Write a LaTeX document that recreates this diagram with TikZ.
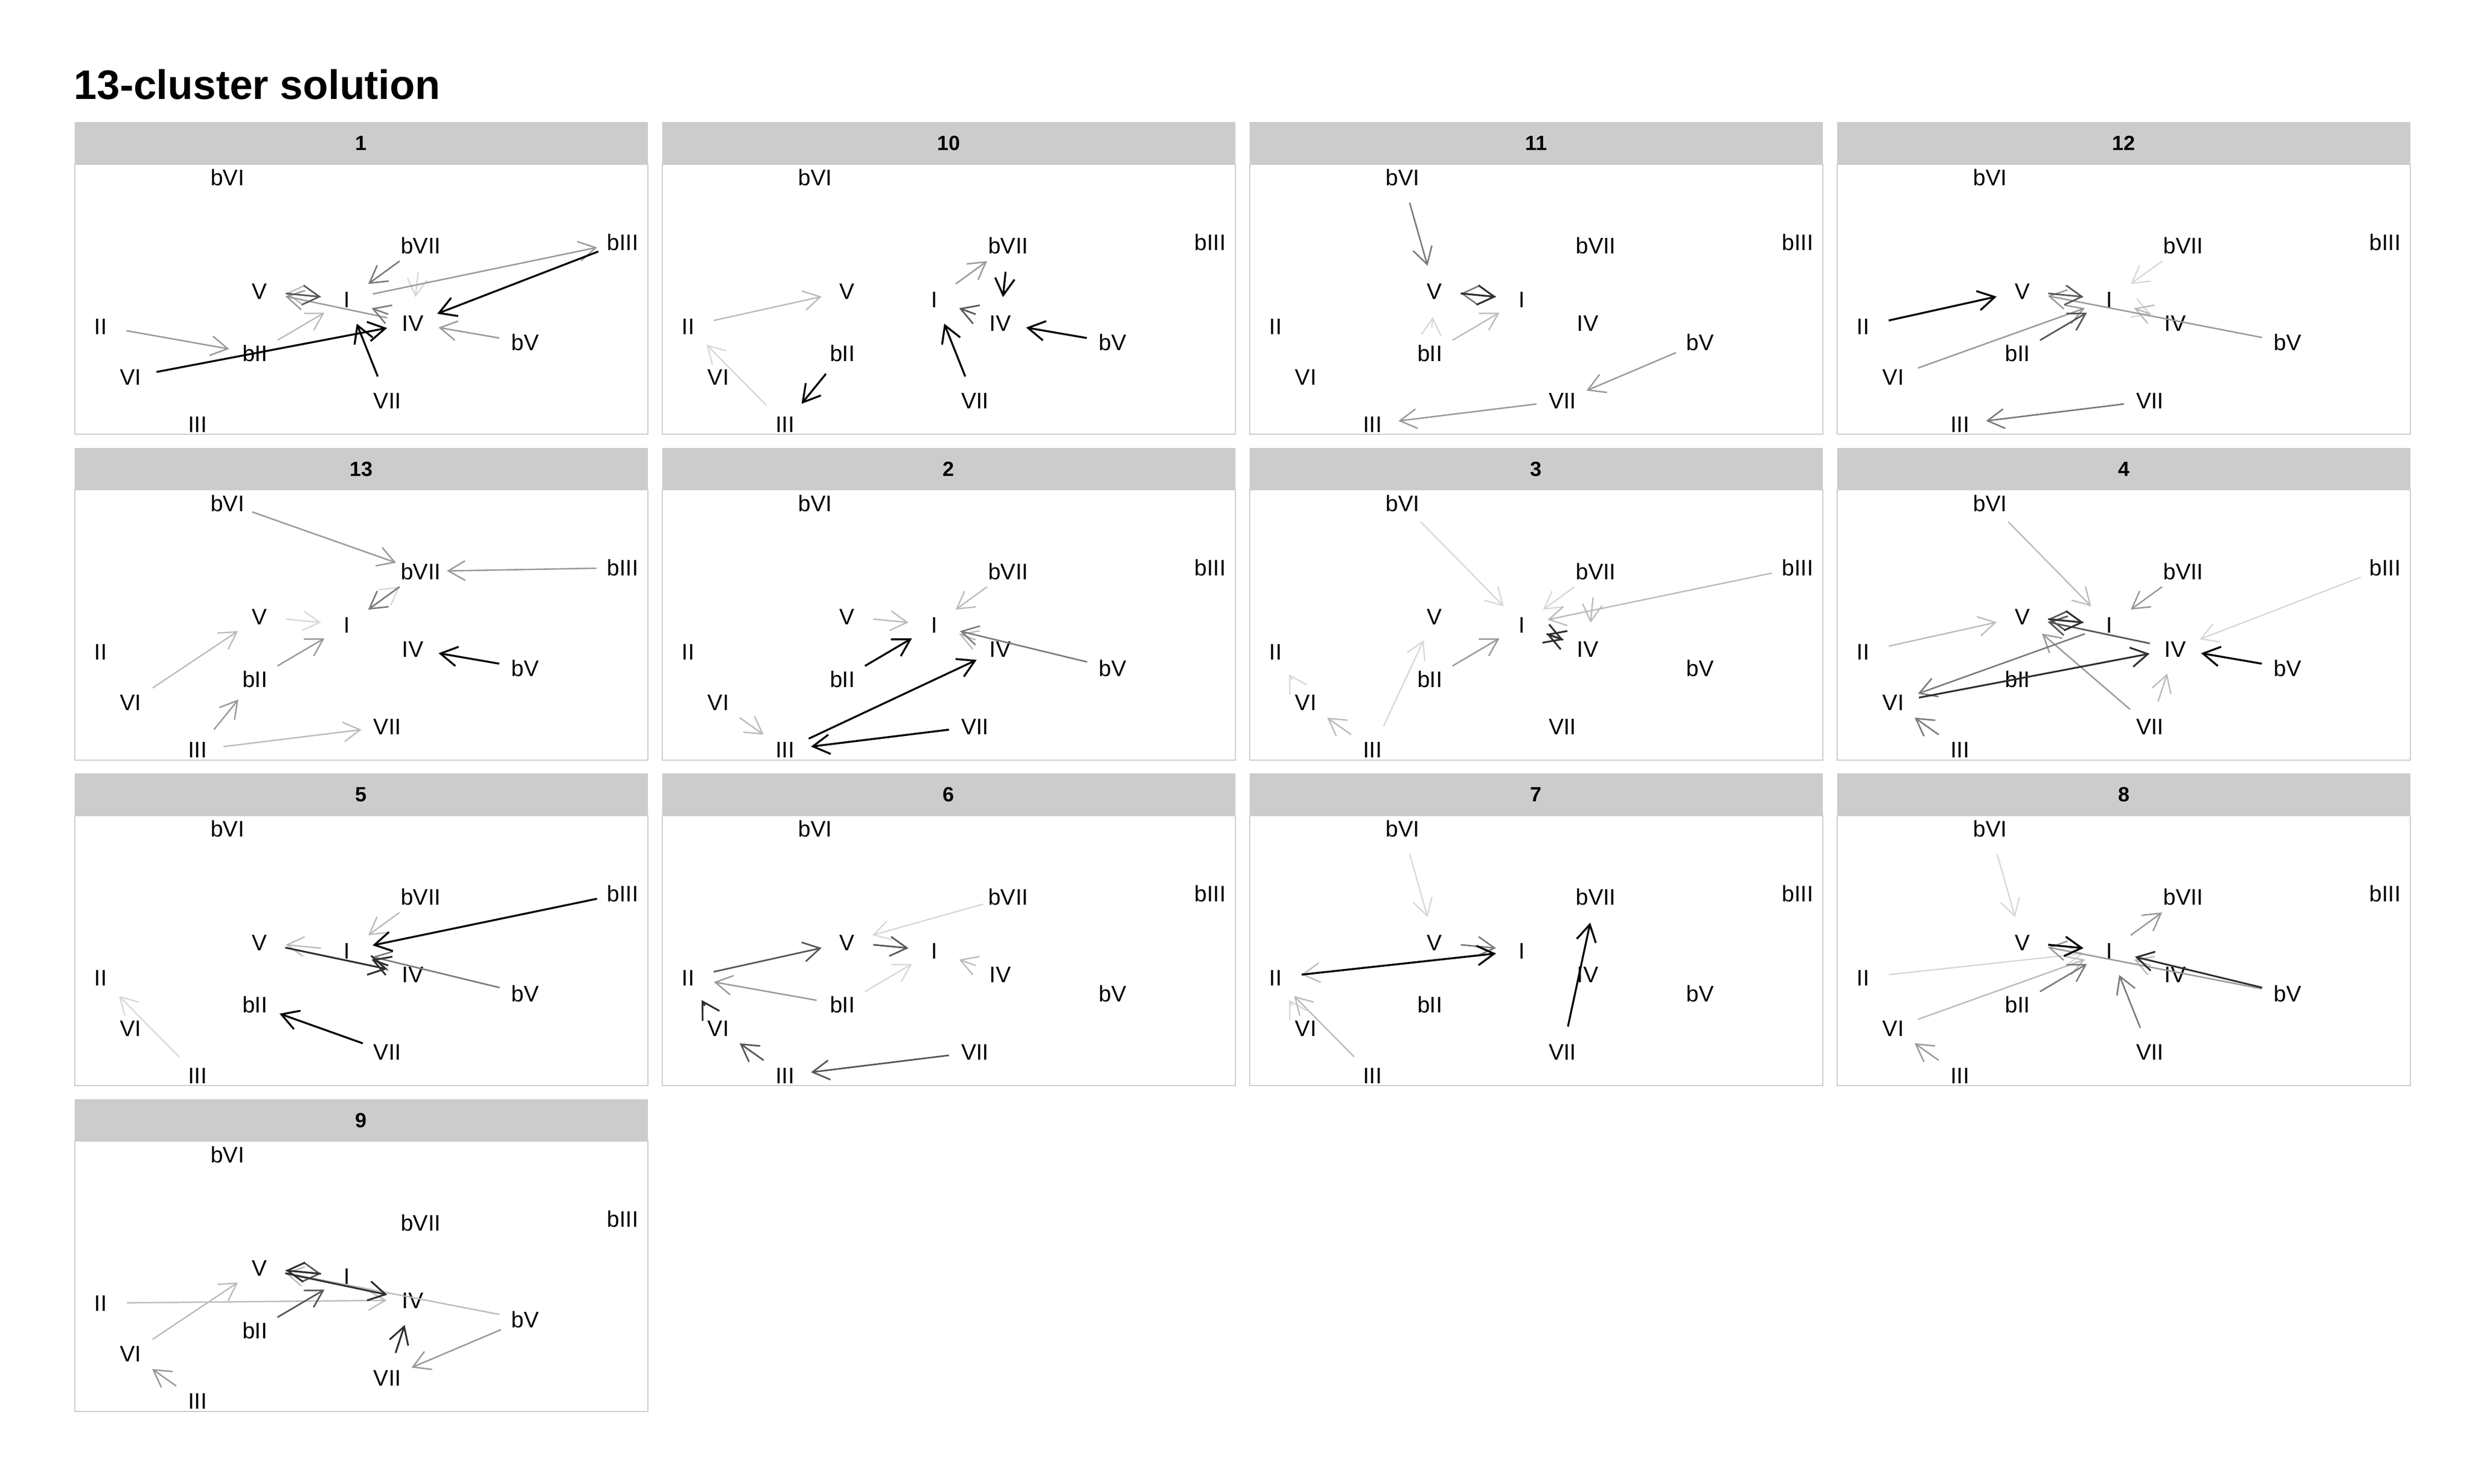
\documentclass[tikz,border=0pt]{standalone}
\usepackage{fontspec}
\setmainfont{Liberation Sans}
\usetikzlibrary{arrows.meta}
\definecolor{stripgray}{gray}{0.8}
\definecolor{bordgray}{gray}{0.8}
\tikzset{
  lab/.style={font=\fontsize{14.2}{14.2}\selectfont, inner sep=0pt, text height=10.2pt, text depth=0pt},
  striplab/.style={font=\bfseries\fontsize{13}{13}\selectfont, inner sep=0pt, text height=9.3pt, text depth=0pt},
  titlelab/.style={font=\bfseries\fontsize{26}{26}\selectfont, inner sep=0pt, anchor=base west},
  arr/.style={shorten <=16.5pt, shorten >=16.5pt, -{Straight Barb[length=10.6pt,width=12.3pt]}, line join=miter},
  g0/.style={arr, draw=black, line width=1.2pt},
  g1/.style={arr, draw=black!82, line width=1.1pt},
  g2/.style={arr, draw=black!66, line width=1.0pt},
  g3/.style={arr, draw=black!52, line width=0.95pt},
  g4/.style={arr, draw=black!40, line width=0.9pt},
  g5/.style={arr, draw=black!27, line width=0.85pt},
  g6/.style={arr, draw=black!16, line width=0.8pt},
}
\newcommand\mypanel[4]{%
  \fill[stripgray] (#3,#4) rectangle ++(361.7,26.5);
  \node[striplab] (#1-head) at (#3+180.85,#4+13.25) {#2};
  \draw[bordgray, line width=0.7pt] (#3,#4+26.5) rectangle ++(361.7,170.4);
  \foreach \n/\dx/\dy in {bVI/96.5/8.5, bVII/218.4/51.5, bIII/345.8/49.2, V/116.8/80, I/171.9/85.3, IV/213.4/100.3, II/16.5/102.2, bV/284.2/112.5, bII/113.8/119.5, VI/35.5/134.2, VII/197.4/149.3, III/77.6/164}
    \node[lab] (#1-\n) at (#3+\dx,#4+26.5+\dy) {\n};
}
\newcommand\arw[3]{\draw[#1] (\curp-#2.center) -- (\curp-#3.center);}
\begin{document}
\begin{tikzpicture}[x=1pt,y=-1pt]
\useasboundingbox (0,0) rectangle (1560,936);
\fill[white] (0,0) rectangle (1560,936);
\node[titlelab] (title) at (46.5,62.6) {13-cluster solution};

\mypanel{p1}{1}{47}{77}
\mypanel{p10}{10}{417.6}{77}
\mypanel{p11}{11}{788.2}{77}
\mypanel{p12}{12}{1158.8}{77}
\mypanel{p13}{13}{47}{282.4}
\mypanel{p2}{2}{417.6}{282.4}
\mypanel{p3}{3}{788.2}{282.4}
\mypanel{p4}{4}{1158.8}{282.4}
\mypanel{p5}{5}{47}{487.8}
\mypanel{p6}{6}{417.6}{487.8}
\mypanel{p7}{7}{788.2}{487.8}
\mypanel{p8}{8}{1158.8}{487.8}
\mypanel{p9}{9}{47}{693.2}

% panel 1
\def\curp{p1}
\arw{g6}{bVII}{IV}
\arw{g5}{bII}{I}
\arw{g5}{I}{V}
\arw{g4}{I}{bIII}
\arw{g4}{IV}{V}
\arw{g4}{bV}{IV}
\arw{g4}{II}{bII}
\arw{g3}{bVII}{I}
\arw{g3}{IV}{I}
\arw{g2}{V}{I}
\arw{g0}{VII}{I}
\arw{g0}{VI}{IV}
\arw{g0}{bIII}{IV}

% panel 10
\def\curp{p10}
\arw{g6}{III}{II}
\arw{g5}{II}{V}
\arw{g4}{I}{bVII}
\arw{g2}{IV}{I}
\arw{g0}{bII}{III}
\arw{g0}{bVII}{IV}
\arw{g0}{VII}{I}
\arw{g0}{bV}{IV}

% panel 11
\def\curp{p11}
\arw{g6}{bII}{V}
\arw{g5}{bII}{I}
\arw{g4}{bV}{VII}
\arw{g4}{VII}{III}
\arw{g3}{bVI}{V}
\arw{g3}{I}{V}
\arw{g1}{V}{I}

% panel 12
\def\curp{p12}
\arw{g6}{bVII}{I}
\arw{g6}{I}{IV}
\arw{g5}{IV}{I}
\arw{g4}{VI}{I}
\arw{g4}{bV}{V}
\arw{g3}{VII}{III}
\arw{g2}{bII}{I}
\arw{g2}{V}{I}
\arw{g0}{II}{V}

% panel 13
\def\curp{p13}
\arw{g6}{I}{bVII}
\arw{g6}{V}{I}
\arw{g5}{VI}{V}
\arw{g5}{III}{VII}
\arw{g4}{bVI}{bVII}
\arw{g4}{bIII}{bVII}
\arw{g4}{bII}{I}
\arw{g4}{III}{bII}
\arw{g3}{bVII}{I}
\arw{g0}{bV}{IV}

% panel 2
\def\curp{p2}
\arw{g5}{bVII}{I}
\arw{g5}{V}{I}
\arw{g5}{IV}{I}
\arw{g5}{VI}{III}
\arw{g3}{bV}{I}
\arw{g0}{bII}{I}
\arw{g0}{III}{IV}
\arw{g0}{VII}{III}

% panel 3
\def\curp{p3}
\arw{g6}{bVI}{I}
\arw{g6}{bVII}{I}
\arw{g6}{III}{V}
\arw{g6}{VI}{II}
\arw{g5}{bIII}{I}
\arw{g5}{bVII}{IV}
\arw{g5}{III}{VI}
\arw{g4}{bII}{I}
\arw{g1}{I}{IV}
\arw{g1}{IV}{I}

% panel 4
\def\curp{p4}
\arw{g6}{bIII}{IV}
\arw{g5}{bVI}{I}
\arw{g5}{II}{V}
\arw{g5}{VII}{IV}
\arw{g4}{bVII}{I}
\arw{g4}{VII}{V}
\arw{g3}{I}{VI}
\arw{g3}{III}{VI}
\arw{g2}{I}{V}
\arw{g2}{IV}{V}
\arw{g1}{V}{I}
\arw{g1}{VI}{IV}
\arw{g0}{bV}{IV}

% panel 5
\def\curp{p5}
\arw{g6}{III}{II}
\arw{g5}{bVII}{I}
\arw{g5}{I}{V}
\arw{g3}{bV}{I}
\arw{g1}{V}{IV}
\arw{g1}{IV}{I}
\arw{g0}{bIII}{I}
\arw{g0}{VII}{bII}

% panel 6
\def\curp{p6}
\arw{g6}{bVII}{V}
\arw{g6}{bII}{I}
\arw{g5}{IV}{I}
\arw{g4}{bII}{II}
\arw{g2}{V}{I}
\arw{g2}{II}{V}
\arw{g2}{III}{VI}
\arw{g2}{VII}{III}
\arw{g1}{VI}{II}

% panel 7
\def\curp{p7}
\arw{g6}{bVI}{V}
\arw{g6}{VI}{II}
\arw{g5}{I}{II}
\arw{g5}{III}{II}
\arw{g3}{V}{I}
\arw{g0}{II}{I}
\arw{g0}{VII}{bVII}

% panel 8
\def\curp{p8}
\arw{g6}{bVI}{V}
\arw{g6}{II}{I}
\arw{g5}{IV}{I}
\arw{g5}{VI}{I}
\arw{g4}{bV}{V}
\arw{g4}{I}{bVII}
\arw{g4}{III}{VI}
\arw{g3}{bII}{I}
\arw{g3}{VII}{I}
\arw{g1}{bV}{I}
\arw{g0}{V}{I}

% panel 9
\def\curp{p9}
\arw{g5}{bV}{V}
\arw{g5}{II}{IV}
\arw{g5}{VI}{V}
\arw{g4}{bV}{VII}
\arw{g4}{III}{VI}
\arw{g2}{V}{I}
\arw{g2}{bII}{I}
\arw{g1}{I}{V}
\arw{g1}{V}{IV}
\arw{g1}{VII}{IV}
\end{tikzpicture}
\end{document}
